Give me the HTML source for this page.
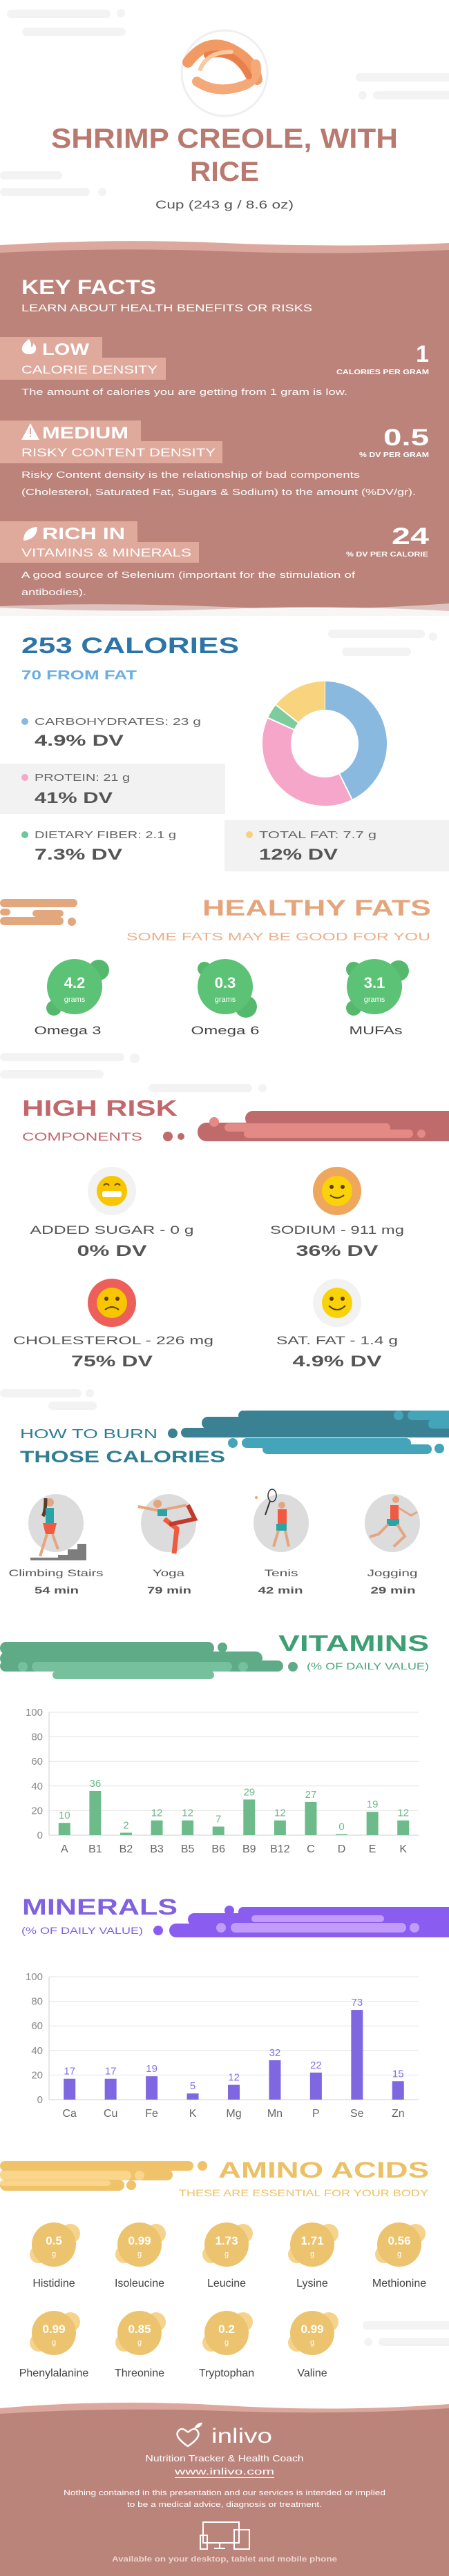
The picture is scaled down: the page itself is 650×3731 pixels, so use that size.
<!DOCTYPE html>
<html><head><meta charset="utf-8"><title>Shrimp creole, with rice</title>
<style>
html,body{margin:0;padding:0;background:#fff;}
svg{display:block;font-family:"Liberation Sans",sans-serif;}
</style></head>
<body>
<svg id="page" width="650" height="3731" viewBox="0 0 650 3731" xmlns="http://www.w3.org/2000/svg">
<rect width="650" height="3731" fill="#fff"/>

<!-- header decorations -->
<g fill="#f3f3f3">
<rect x="10" y="14" width="150" height="12" rx="6"/><rect x="32" y="40" width="150" height="12" rx="6"/><circle cx="175" cy="19" r="6"/>
<rect x="515" y="106" width="140" height="12" rx="6"/><rect x="540" y="132" width="120" height="12" rx="6"/><circle cx="525" cy="138" r="6"/>
<rect x="0" y="248" width="90" height="12" rx="6"/><rect x="0" y="272" width="130" height="12" rx="6"/><circle cx="148" cy="278" r="6"/>
</g>
<g>
<circle cx="325" cy="106" r="62" fill="#fff" stroke="#efefef" stroke-width="3"/>
<path d="M272 90 q30 -40 70 -15 q25 15 30 40" stroke="#f29a64" stroke-width="16" fill="none" stroke-linecap="round"/>
<path d="M285 118 q30 20 70 5 q20 -10 15 -30" stroke="#f5a878" stroke-width="14" fill="none" stroke-linecap="round"/>
<path d="M300 80 q40 -10 60 30" stroke="#e8804e" stroke-width="10" fill="none" stroke-linecap="round"/>
<path d="M290 100 q10 -25 45 -25" stroke="#fbc8a0" stroke-width="6" fill="none" stroke-linecap="round"/>
</g>
<text x="325" y="214" text-anchor="middle" font-size="40" font-weight="bold" fill="#b9796f" textLength="502" lengthAdjust="spacingAndGlyphs">SHRIMP CREOLE, WITH</text>
<text x="325" y="262" text-anchor="middle" font-size="40" font-weight="bold" fill="#b9796f" textLength="100" lengthAdjust="spacingAndGlyphs">RICE</text>
<text x="325" y="302" text-anchor="middle" font-size="17" fill="#555" textLength="200" lengthAdjust="spacingAndGlyphs">Cup (243 g / 8.6 oz)</text>

<!-- key facts band -->
<g>
<path d="M0 355 Q160 345 325 352 T650 352 L650 372 L0 372Z" fill="#dca89d"/>
<path d="M0 366 Q160 358 325 364 T650 362 L650 885 Q480 876 325 882 T0 880Z" fill="#bb837a"/>
<path d="M0 878 Q160 872 325 879 T650 874 L650 892 L0 892Z" fill="#f3efee" opacity="0.6"/>
</g>
<text x="31" y="426" font-size="30" font-weight="bold" fill="#fff" textLength="195" lengthAdjust="spacingAndGlyphs">KEY FACTS</text>
<text x="31" y="451" font-size="15" fill="#fff" textLength="421" lengthAdjust="spacingAndGlyphs">LEARN ABOUT HEALTH BENEFITS OR RISKS</text>

<g>
<rect x="0" y="488" width="148" height="31" fill="#dfa99c"/><rect x="0" y="518" width="240" height="32" fill="#dfa99c"/>
<path d="M42 491 q-12 9 -10 16 q2 6 10 6 q9 0 10 -7 q1 -5 -4 -9 q0 5 -3 6 q1 -6 -3 -12z" fill="#fff"/>
<text x="61" y="514" font-size="24" font-weight="bold" fill="#fff" textLength="68" lengthAdjust="spacingAndGlyphs">LOW</text>
<text x="31" y="541" font-size="17" fill="#fff" textLength="197" lengthAdjust="spacingAndGlyphs">CALORIE DENSITY</text>
<text x="621" y="524" text-anchor="end" font-size="34" font-weight="bold" fill="#fff">1</text>
<text x="621" y="542" text-anchor="end" font-size="10" font-weight="bold" fill="#fff" textLength="134" lengthAdjust="spacingAndGlyphs">CALORIES PER GRAM</text>
<text x="31" y="572" font-size="13" fill="#fff" textLength="472" lengthAdjust="spacingAndGlyphs">The amount of calories you are getting from 1 gram is low.</text>
</g>
<g>
<rect x="0" y="609" width="204" height="31" fill="#dfa99c"/><rect x="0" y="639" width="322" height="32" fill="#dfa99c"/>
<path d="M44 613 L57 637 L31 637Z" fill="#fff"/><rect x="43" y="620" width="2" height="9" fill="#dfa99c"/><rect x="43" y="631" width="2" height="2" fill="#dfa99c"/>
<text x="61" y="635" font-size="24" font-weight="bold" fill="#fff" textLength="125" lengthAdjust="spacingAndGlyphs">MEDIUM</text>
<text x="31" y="661" font-size="17" fill="#fff" textLength="281" lengthAdjust="spacingAndGlyphs">RISKY CONTENT DENSITY</text>
<text x="621" y="645" text-anchor="end" font-size="34" font-weight="bold" fill="#fff" textLength="66" lengthAdjust="spacingAndGlyphs">0.5</text>
<text x="621" y="662" text-anchor="end" font-size="10" font-weight="bold" fill="#fff" textLength="101" lengthAdjust="spacingAndGlyphs">% DV PER GRAM</text>
<text x="31" y="692" font-size="13" fill="#fff" textLength="490" lengthAdjust="spacingAndGlyphs">Risky Content density is the relationship of bad components</text>
<text x="31" y="717" font-size="13" fill="#fff" textLength="571" lengthAdjust="spacingAndGlyphs">(Cholesterol, Saturated Fat, Sugars &amp; Sodium) to the amount (%DV/gr).</text>
</g>
<g>
<rect x="0" y="755" width="199" height="31" fill="#dfa99c"/><rect x="0" y="785" width="288" height="30" fill="#dfa99c"/>
<path d="M34 783 q0 -18 20 -20 q0 18 -20 20z" fill="#fff"/>
<text x="61" y="781" font-size="24" font-weight="bold" fill="#fff" textLength="120" lengthAdjust="spacingAndGlyphs">RICH  IN</text>
<text x="31" y="806" font-size="17" fill="#fff" textLength="246" lengthAdjust="spacingAndGlyphs">VITAMINS &amp; MINERALS</text>
<text x="621" y="788" text-anchor="end" font-size="34" font-weight="bold" fill="#fff" textLength="54" lengthAdjust="spacingAndGlyphs">24</text>
<text x="620" y="806" text-anchor="end" font-size="10" font-weight="bold" fill="#fff" textLength="119" lengthAdjust="spacingAndGlyphs">% DV PER CALORIE</text>
<text x="31" y="837" font-size="13" fill="#fff" textLength="483" lengthAdjust="spacingAndGlyphs">A good source of Selenium (important for the stimulation of</text>
<text x="31" y="862" font-size="13" fill="#fff" textLength="94" lengthAdjust="spacingAndGlyphs">antibodies).</text>
</g>

<!-- calories -->
<g fill="#f3f3f3">
<rect x="475" y="912" width="140" height="12" rx="6"/><rect x="495" y="938" width="100" height="12" rx="6"/><circle cx="627" cy="922" r="6"/>
</g>
<text x="31" y="946" font-size="32" font-weight="bold" fill="#2d74a8" textLength="315" lengthAdjust="spacingAndGlyphs">253 CALORIES</text>
<text x="31" y="984" font-size="18" font-weight="bold" fill="#6baee0" textLength="167" lengthAdjust="spacingAndGlyphs">70 FROM FAT</text>
<rect x="0" y="1106" width="326" height="73" fill="#f2f2f2"/>
<rect x="325" y="1188" width="325" height="74" fill="#f2f2f2"/>
<g>
<circle cx="36" cy="1045" r="5" fill="#8ab9e0"/>
<text x="50" y="1050" font-size="15" fill="#666" textLength="241" lengthAdjust="spacingAndGlyphs">CARBOHYDRATES: 23 g</text>
<text x="50" y="1080" font-size="22" font-weight="bold" fill="#555" textLength="129" lengthAdjust="spacingAndGlyphs">4.9% DV</text>
</g>
<g>
<circle cx="36" cy="1126" r="5" fill="#f6a6c8"/>
<text x="50" y="1131" font-size="15" fill="#666" textLength="138" lengthAdjust="spacingAndGlyphs">PROTEIN: 21 g</text>
<text x="50" y="1163" font-size="22" font-weight="bold" fill="#555" textLength="113" lengthAdjust="spacingAndGlyphs">41% DV</text>
</g>
<g>
<circle cx="36" cy="1209" r="5" fill="#6cc79a"/>
<text x="50" y="1214" font-size="15" fill="#666" textLength="205" lengthAdjust="spacingAndGlyphs">DIETARY FIBER: 2.1 g</text>
<text x="50" y="1245" font-size="22" font-weight="bold" fill="#555" textLength="127" lengthAdjust="spacingAndGlyphs">7.3% DV</text>
</g>
<g>
<circle cx="361" cy="1209" r="5" fill="#f8d07a"/>
<text x="375" y="1214" font-size="15" fill="#666" textLength="170" lengthAdjust="spacingAndGlyphs">TOTAL FAT: 7.7 g</text>
<text x="375" y="1245" font-size="22" font-weight="bold" fill="#555" textLength="114" lengthAdjust="spacingAndGlyphs">12% DV</text>
</g>
<g id="donut"></g>

<!-- healthy fats -->
<g fill="#e3a77e">
<rect x="0" y="1302" width="112" height="12" rx="6"/><rect x="0" y="1316" width="15" height="10" rx="5"/><rect x="47" y="1318" width="45" height="10" rx="5"/>
<rect x="0" y="1328" width="92" height="12" rx="6"/><circle cx="104" cy="1335" r="6"/>
</g>
<text x="624" y="1326" text-anchor="end" font-size="32" font-weight="bold" fill="#e5a57c" textLength="331" lengthAdjust="spacingAndGlyphs">HEALTHY FATS</text>
<text x="623" y="1362" text-anchor="end" font-size="16" fill="#eab08a" textLength="440" lengthAdjust="spacingAndGlyphs">SOME FATS MAY BE GOOD FOR YOU</text>
<g>
<circle cx="143" cy="1405" r="15" fill="#55b86c"/><circle cx="78" cy="1460" r="11" fill="#55b86c"/>
<circle cx="108" cy="1429" r="40" fill="#5cc275"/>
<text x="108" y="1431" text-anchor="middle" font-size="22" font-weight="bold" fill="#fff">4.2</text>
<text x="108" y="1451" text-anchor="middle" font-size="11" fill="#fff">grams</text>
<text x="98" y="1498" text-anchor="middle" font-size="17" fill="#444" textLength="97" lengthAdjust="spacingAndGlyphs">Omega 3</text>
</g>
<g>
<circle cx="296" cy="1403" r="10" fill="#55b86c"/><circle cx="356" cy="1458" r="16" fill="#55b86c"/>
<circle cx="326" cy="1429" r="40" fill="#5cc275"/>
<text x="326" y="1431" text-anchor="middle" font-size="22" font-weight="bold" fill="#fff">0.3</text>
<text x="326" y="1451" text-anchor="middle" font-size="11" fill="#fff">grams</text>
<text x="326" y="1498" text-anchor="middle" font-size="17" fill="#444" textLength="99" lengthAdjust="spacingAndGlyphs">Omega 6</text>
</g>
<g>
<circle cx="512" cy="1404" r="11" fill="#55b86c"/><circle cx="577" cy="1406" r="15" fill="#55b86c"/><circle cx="512" cy="1460" r="11" fill="#55b86c"/>
<circle cx="542" cy="1429" r="40" fill="#5cc275"/>
<text x="542" y="1431" text-anchor="middle" font-size="22" font-weight="bold" fill="#fff">3.1</text>
<text x="542" y="1451" text-anchor="middle" font-size="11" fill="#fff">grams</text>
<text x="544" y="1498" text-anchor="middle" font-size="17" fill="#444" textLength="77" lengthAdjust="spacingAndGlyphs">MUFAs</text>
</g>
<g fill="#f3f3f3">
<rect x="0" y="1525" width="180" height="12" rx="6"/><circle cx="195" cy="1533" r="7"/><rect x="0" y="1550" width="150" height="12" rx="6"/><rect x="215" y="1570" width="150" height="12" rx="6"/><circle cx="380" cy="1576" r="6"/>
</g>

<!-- high risk -->
<g>
<rect x="286" y="1626" width="380" height="27" rx="13" fill="#bf6a6b"/>
<rect x="355" y="1609" width="320" height="22" rx="11" fill="#bf6a6b"/>
<rect x="325" y="1627" width="240" height="12" rx="6" fill="#e38a87"/>
<rect x="353" y="1636" width="245" height="12" rx="6" fill="#e38a87"/>
<circle cx="310" cy="1625" r="7" fill="#e38a87"/><circle cx="610" cy="1642" r="6" fill="#e38a87"/>
<circle cx="243" cy="1646" r="7" fill="#bf6a6b"/><circle cx="262" cy="1646" r="5" fill="#bf6a6b"/>
</g>
<text x="32" y="1616" font-size="32" font-weight="bold" fill="#c2676b" textLength="225" lengthAdjust="spacingAndGlyphs">HIGH RISK</text>
<text x="32" y="1652" font-size="17" fill="#c2676b" textLength="174" lengthAdjust="spacingAndGlyphs">COMPONENTS</text>

<g>
<circle cx="162" cy="1725" r="35" fill="#f2f2f2"/><circle cx="162" cy="1725" r="22" fill="#f7c600"/>
<rect x="148" y="1725" width="28" height="9" rx="3" fill="#fff"/>
<path d="M150 1717 q4 -5 8 0 M166 1717 q4 -5 8 0" stroke="#6b4a00" stroke-width="2" fill="none"/>
<text x="162" y="1787" text-anchor="middle" font-size="17" fill="#555" textLength="237" lengthAdjust="spacingAndGlyphs">ADDED SUGAR - 0 g</text>
<text x="162" y="1819" text-anchor="middle" font-size="22" font-weight="bold" fill="#555" textLength="101" lengthAdjust="spacingAndGlyphs">0% DV</text>
</g>
<g>
<circle cx="488" cy="1725" r="35" fill="#efa65d"/><circle cx="488" cy="1725" r="22" fill="#f9d20a"/>
<circle cx="480" cy="1719" r="3" fill="#5a3d00"/><circle cx="496" cy="1719" r="3" fill="#5a3d00"/>
<path d="M478 1731 q10 8 20 0" stroke="#5a3d00" stroke-width="2" fill="none"/>
<text x="488" y="1787" text-anchor="middle" font-size="17" fill="#555" textLength="194" lengthAdjust="spacingAndGlyphs">SODIUM - 911 mg</text>
<text x="488" y="1819" text-anchor="middle" font-size="22" font-weight="bold" fill="#555" textLength="119" lengthAdjust="spacingAndGlyphs">36% DV</text>
</g>
<g>
<circle cx="162" cy="1887" r="35" fill="#ec5f5a"/><circle cx="162" cy="1887" r="22" fill="#f7c600"/>
<circle cx="154" cy="1881" r="3" fill="#5a3d00"/><circle cx="170" cy="1881" r="3" fill="#5a3d00"/>
<path d="M152 1897 q10 -8 20 0" stroke="#5a3d00" stroke-width="2" fill="none"/>
<text x="164" y="1947" text-anchor="middle" font-size="17" fill="#555" textLength="290" lengthAdjust="spacingAndGlyphs">CHOLESTEROL - 226 mg</text>
<text x="162" y="1979" text-anchor="middle" font-size="22" font-weight="bold" fill="#555" textLength="118" lengthAdjust="spacingAndGlyphs">75% DV</text>
</g>
<g>
<circle cx="488" cy="1887" r="35" fill="#f2f2f2"/><circle cx="488" cy="1887" r="22" fill="#f9d20a"/>
<circle cx="480" cy="1881" r="3" fill="#5a3d00"/><circle cx="496" cy="1881" r="3" fill="#5a3d00"/>
<path d="M476 1891 q12 12 24 0" stroke="#5a3d00" stroke-width="2" fill="none"/>
<text x="488" y="1947" text-anchor="middle" font-size="17" fill="#555" textLength="176" lengthAdjust="spacingAndGlyphs">SAT. FAT - 1.4 g</text>
<text x="488" y="1979" text-anchor="middle" font-size="22" font-weight="bold" fill="#555" textLength="129" lengthAdjust="spacingAndGlyphs">4.9% DV</text>
</g>

<!-- burn -->
<g fill="#f3f3f3">
<rect x="0" y="2012" width="118" height="12" rx="6"/><circle cx="130" cy="2018" r="6"/><rect x="70" y="2030" width="70" height="12" rx="6"/>
</g>
<g>
<rect x="350" y="2043" width="310" height="14" rx="7" fill="#3a8193"/><circle cx="352" cy="2050" r="7" fill="#3a8193"/>
<rect x="292" y="2052" width="370" height="18" rx="9" fill="#3a8193"/>
<rect x="262" y="2068" width="400" height="14" rx="7" fill="#3a8193"/><circle cx="250" cy="2076" r="7" fill="#3a8193"/>
<rect x="590" y="2043" width="70" height="14" rx="7" fill="#43a4ba"/><circle cx="577" cy="2050" r="7" fill="#43a4ba"/>
<rect x="620" y="2056" width="40" height="13" rx="6" fill="#43a4ba"/>
<rect x="350" y="2083" width="245" height="14" rx="7" fill="#43a4ba"/><circle cx="337" cy="2090" r="7" fill="#43a4ba"/>
<rect x="380" y="2092" width="245" height="14" rx="7" fill="#43a4ba"/><circle cx="636" cy="2098" r="7" fill="#43a4ba"/>
</g>
<text x="29" y="2083" font-size="18" fill="#2e7d92" textLength="199" lengthAdjust="spacingAndGlyphs">HOW TO BURN</text>
<text x="29" y="2118" font-size="24" font-weight="bold" fill="#2e7d92" textLength="297" lengthAdjust="spacingAndGlyphs">THOSE CALORIES</text>
<g>
<ellipse cx="81" cy="2206" rx="40" ry="42" fill="#dcdcdc"/>
<path d="M44 2260 L125 2260 L125 2236 L112 2236 L112 2244 L98 2244 L98 2252 L84 2252 L84 2256 L44 2256Z" fill="#7d7d7d"/>
<circle cx="72" cy="2176" r="6" fill="#e5a57f"/><path d="M66 2170 q0 20 -4 26" stroke="#5a3a2a" stroke-width="5" fill="none"/>
<rect x="66" y="2184" width="12" height="22" fill="#2aa4a6"/><path d="M62 2206 L82 2206 L78 2222 L66 2222Z" fill="#f05a40"/>
<path d="M68 2222 L58 2254 M76 2222 L84 2244" stroke="#e5a57f" stroke-width="4"/>
</g>
<g>
<ellipse cx="244" cy="2206" rx="40" ry="42" fill="#dcdcdc"/>
<circle cx="228" cy="2178" r="6" fill="#e5a57f"/><path d="M200 2182 L230 2188 L270 2180" stroke="#e5a57f" stroke-width="4" fill="none"/>
<rect x="228" y="2186" width="14" height="10" fill="#2aa4a6"/><path d="M238 2200 L256 2214 L252 2250" stroke="#f05a40" stroke-width="7" fill="none"/>
<path d="M245 2208 L282 2200 L272 2180" stroke="#c23a2a" stroke-width="6" fill="none"/>
</g>
<g>
<ellipse cx="407" cy="2206" rx="40" ry="42" fill="#dcdcdc"/>
<ellipse cx="394" cy="2166" rx="6" ry="9" fill="none" stroke="#333" stroke-width="1.5"/><path d="M391 2174 L384 2194" stroke="#333" stroke-width="2"/>
<circle cx="371" cy="2169" r="2" fill="#e5a57f"/><circle cx="408" cy="2180" r="5" fill="#e5a57f"/>
<rect x="402" y="2186" width="13" height="22" fill="#f05a40"/><rect x="400" y="2207" width="15" height="10" fill="#2aa4a6"/>
<path d="M403 2217 L396 2240 M413 2217 L418 2240" stroke="#e5a57f" stroke-width="4"/>
</g>
<g>
<ellipse cx="568" cy="2206" rx="40" ry="42" fill="#dcdcdc"/>
<circle cx="573" cy="2172" r="5" fill="#e5a57f"/><rect x="565" y="2180" width="12" height="22" fill="#f05a40"/>
<rect x="560" y="2200" width="18" height="10" fill="#2aa4a6"/>
<path d="M562 2208 L548 2222 L535 2226 M575 2208 L586 2225 L570 2240" stroke="#e5a57f" stroke-width="4" fill="none"/>
<path d="M577 2184 L595 2195 L604 2190" stroke="#e5a57f" stroke-width="3" fill="none"/>
</g>
<g font-size="14">
<text x="81" y="2283" text-anchor="middle" fill="#555" textLength="137" lengthAdjust="spacingAndGlyphs">Climbing Stairs</text>
<text x="82" y="2308" text-anchor="middle" font-weight="bold" fill="#555" textLength="64" lengthAdjust="spacingAndGlyphs">54 min</text>
<text x="244" y="2283" text-anchor="middle" fill="#555" textLength="46" lengthAdjust="spacingAndGlyphs">Yoga</text>
<text x="245" y="2308" text-anchor="middle" font-weight="bold" fill="#555" textLength="64" lengthAdjust="spacingAndGlyphs">79 min</text>
<text x="407" y="2283" text-anchor="middle" fill="#555" textLength="49" lengthAdjust="spacingAndGlyphs">Tenis</text>
<text x="406" y="2308" text-anchor="middle" font-weight="bold" fill="#555" textLength="65" lengthAdjust="spacingAndGlyphs">42 min</text>
<text x="568" y="2283" text-anchor="middle" fill="#555" textLength="73" lengthAdjust="spacingAndGlyphs">Jogging</text>
<text x="569" y="2308" text-anchor="middle" font-weight="bold" fill="#555" textLength="65" lengthAdjust="spacingAndGlyphs">29 min</text>
</g>

<!-- vitamins -->
<g>
<rect x="0" y="2378" width="310" height="18" rx="9" fill="#5fab87"/><circle cx="322" cy="2386" r="7" fill="#5fab87"/>
<rect x="0" y="2392" width="380" height="20" rx="10" fill="#5fab87"/>
<rect x="0" y="2405" width="410" height="16" rx="8" fill="#5fab87"/><circle cx="424" cy="2414" r="7" fill="#5fab87"/>
<rect x="46" y="2407" width="290" height="14" rx="7" fill="#77c09e"/><circle cx="33" cy="2414" r="7" fill="#77c09e"/><circle cx="352" cy="2414" r="7" fill="#77c09e"/>
<rect x="76" y="2420" width="234" height="12" rx="6" fill="#77c09e"/>
</g>
<text x="621" y="2391" text-anchor="end" font-size="32" font-weight="bold" fill="#3e9e74" textLength="218" lengthAdjust="spacingAndGlyphs">VITAMINS</text>
<text x="621" y="2418" text-anchor="end" font-size="14" fill="#4aa57a" textLength="177" lengthAdjust="spacingAndGlyphs">(% OF DAILY VALUE)</text>
<g id="vitChart"></g>

<!-- minerals -->
<g>
<rect x="345" y="2762" width="320" height="14" rx="7" fill="#8b5cf0"/><circle cx="332" cy="2767" r="7" fill="#8b5cf0"/>
<rect x="272" y="2771" width="390" height="18" rx="9" fill="#8b5cf0"/>
<rect x="245" y="2786" width="420" height="20" rx="10" fill="#8b5cf0"/><circle cx="229" cy="2796" r="7" fill="#8b5cf0"/>
<rect x="364" y="2774" width="192" height="10" rx="5" fill="#c29cf8"/>
<rect x="334" y="2785" width="254" height="14" rx="7" fill="#c29cf8"/><circle cx="320" cy="2792" r="7" fill="#c29cf8"/><circle cx="600" cy="2792" r="7" fill="#c29cf8"/>
</g>
<text x="32" y="2773" font-size="32" font-weight="bold" fill="#8062e0" textLength="225" lengthAdjust="spacingAndGlyphs">MINERALS</text>
<text x="31" y="2801" font-size="14" fill="#8062e0" textLength="176" lengthAdjust="spacingAndGlyphs">(% OF DAILY VALUE)</text>
<g id="minChart"></g>

<!-- amino acids -->
<g>
<rect x="0" y="3130" width="280" height="14" rx="7" fill="#f0c36b"/><circle cx="293" cy="3137" r="7" fill="#f0c36b"/>
<rect x="0" y="3142" width="250" height="16" rx="8" fill="#f0c36b"/>
<rect x="0" y="3144" width="190" height="14" rx="7" fill="#f9d68c"/><circle cx="202" cy="3151" r="7" fill="#f9d68c"/>
<rect x="0" y="3157" width="180" height="16" rx="8" fill="#f0c36b"/><rect x="0" y="3158" width="160" height="8" rx="4" fill="#f9d68c"/><circle cx="190" cy="3165" r="7" fill="#f0c36b"/>
</g>
<text x="621" y="3154" text-anchor="end" font-size="32" font-weight="bold" fill="#ecc064" textLength="305" lengthAdjust="spacingAndGlyphs">AMINO ACIDS</text>
<text x="620" y="3181" text-anchor="end" font-size="14" fill="#ecc064" textLength="361" lengthAdjust="spacingAndGlyphs">THESE ARE ESSENTIAL FOR YOUR BODY</text>
<g fill="#f3f3f3">
<rect x="525" y="3362" width="140" height="12" rx="6"/><rect x="548" y="3386" width="110" height="12" rx="6"/><circle cx="533" cy="3392" r="6"/>
</g>
<g id="amino"></g>

<!-- footer -->
<g>
<path d="M0 3488 Q160 3474 325 3484 T650 3482 L650 3500 L0 3500Z" fill="#dca89d"/>
<path d="M0 3496 Q160 3486 325 3492 T650 3488 L650 3731 L0 3731Z" fill="#bb847a"/>
<path d="M272 3523 q-10 -10 -15 0 q-3 8 15 20 q18 -12 15 -20 q-4 -10 -15 0" stroke="#fff" stroke-width="2.5" fill="none"/>
<path d="M281 3517 q5 -9 12 -8 q-2 8 -12 8z" fill="#fff"/>
<text x="306" y="3538" font-size="30" fill="#fff" textLength="88" lengthAdjust="spacingAndGlyphs">inlivo</text>
<text x="325" y="3565" text-anchor="middle" font-size="13" fill="#fff" textLength="229" lengthAdjust="spacingAndGlyphs">Nutrition Tracker &amp; Health Coach</text>
<text x="325" y="3584" text-anchor="middle" font-size="13" fill="#fff" textLength="144" lengthAdjust="spacingAndGlyphs">www.inlivo.com</text>
<rect x="253" y="3588" width="144" height="1" fill="#fff"/>
<text x="325" y="3614" text-anchor="middle" font-size="11" fill="#fff" textLength="466" lengthAdjust="spacingAndGlyphs">Nothing contained in this presentation and our services is intended or implied</text>
<text x="325" y="3631" text-anchor="middle" font-size="11" fill="#fff" textLength="282" lengthAdjust="spacingAndGlyphs">to be a medical advice, diagnosis or treatment.</text>
<g stroke="#fff" stroke-width="2" fill="none">
<rect x="294" y="3653" width="52" height="30"/><rect x="290" y="3672" width="10" height="20"/><rect x="339" y="3664" width="22" height="28"/>
<path d="M318 3684 L318 3690 M310 3691 L326 3691"/>
</g>
<text x="325" y="3710" text-anchor="middle" font-size="11" font-weight="bold" fill="#ecd2cb" textLength="326" lengthAdjust="spacingAndGlyphs">Available on your desktop, tablet and mobile phone</text>
</g>
</svg>

<script>
var NS = "http://www.w3.org/2000/svg";
// macro donut data (grams)
var macroNames = ["carbohydrates", "protein", "fiber", "fat"];
var macroGrams = [23, 21, 2.1, 7.7];
var macroColors = ["#8ab9e0", "#f6a6c8", "#7ecb9e", "#f8d47e"];
// vitamins
var vitCats = ["A","B1","B2","B3","B5","B6","B9","B12","C","D","E","K"];
var vitVals = [10,36,2,12,12,7,29,12,27,0,19,12];
// minerals
var minCats = ["Ca","Cu","Fe","K","Mg","Mn","P","Se","Zn"];
var minVals = [17,17,19,5,12,32,22,73,15];
var yTicks = [0,20,40,60,80,100];
// amino acids
var aminoNames = ["Histidine","Isoleucine","Leucine","Lysine","Methionine","Phenylalanine","Threonine","Tryptophan","Valine"];
var aminoVals = ["0.5","0.99","1.73","1.71","0.56","0.99","0.85","0.2","0.99"];

function mk(tag, attrs, parent){
  var e = document.createElementNS(NS, tag);
  for (var k in attrs) e.setAttribute(k, attrs[k]);
  parent.appendChild(e);
  return e;
}

// donut
(function(){
  var g = document.getElementById("donut");
  var cx = 470, cy = 1077, r = 69.5, w = 41;
  var total = macroGrams.reduce(function(a,b){return a+b;},0);
  var a0 = 0;
  for (var i=0;i<macroGrams.length;i++){
    var a1 = a0 + macroGrams[i]/total*360;
    var p1 = [cx + r*Math.sin(a0*Math.PI/180), cy - r*Math.cos(a0*Math.PI/180)];
    var p2 = [cx + r*Math.sin(a1*Math.PI/180), cy - r*Math.cos(a1*Math.PI/180)];
    var large = (a1-a0) > 180 ? 1 : 0;
    var p = mk("path", {d:"M"+p1[0]+" "+p1[1]+" A"+r+" "+r+" 0 "+large+" 1 "+p2[0]+" "+p2[1], stroke:macroColors[i], "stroke-width":w, fill:"none"}, g);
    
    
    var l = mk("line", {x1:cx+(r-w/2)*Math.sin(a0*Math.PI/180), y1:cy-(r-w/2)*Math.cos(a0*Math.PI/180), x2:cx+(r+w/2)*Math.sin(a0*Math.PI/180), y2:cy-(r+w/2)*Math.cos(a0*Math.PI/180), stroke:"#fff", "stroke-width":2}, g);
    
    
    a0 = a1;
  }
})();

function barChart(gid, cats, vals, yTop, y0, barColor, valColor, prefix){
  var g = document.getElementById(gid);
  var left = 71, right = 606;
  function yScale(v){ return y0 - (y0 - yTop) * v / 100; }
  var band = (right-left)/cats.length;
  function xScale(i){ return left + band*(i+0.5); }
  for (var t=0;t<yTicks.length;t++){
    var y = yScale(yTicks[t]);
    var gl = mk("line", {x1:left, y1:y, x2:right, y2:y, stroke: t===0 ? "#cfcfcf" : "#e4e4e4", "stroke-width":1}, g);
    
    
    var tl = mk("text", {x:62, y:y+5, "text-anchor":"end", "font-size":15, fill:"#888"}, g);
    tl.textContent = yTicks[t];
    
    
  }
  var ax = mk("line", {x1:left, y1:yTop, x2:left, y2:y0, stroke:"#cfcfcf", "stroke-width":1}, g);
  
  
  for (var i=0;i<cats.length;i++){
    var x = xScale(i), v = vals[i], h = Math.max(y0 - yScale(v), 1.5);
    var b = mk("rect", {x:x-8.5, y:y0-h, width:17, height:h, fill:barColor}, g);
    
    
    var vl = mk("text", {x:x, y:y0-h-6, "text-anchor":"middle", "font-size":15, fill:valColor}, g);
    vl.textContent = v;
    
    
    var cl = mk("text", {x:x, y:y0+25, "text-anchor":"middle", "font-size":16, fill:"#666"}, g);
    cl.textContent = cats[i];
    
    
  }
}
barChart("vitChart", vitCats, vitVals, 2480, 2658, "#6dbb8a", "#6bb98a", "vitamin");
barChart("minChart", minCats, minVals, 2863, 3041, "#7e67e0", "#8470e6", "mineral");

// amino acids
(function(){
  var g = document.getElementById("amino");
  var xs = [78,202,328,452,578];
  for (var i=0;i<aminoNames.length;i++){
    var row = Math.floor(i/5), col = i%5;
    var cx = xs[col], cy = row===0 ? 3251 : 3379;
    var bg = mk("g", {}, g);
    
    
    mk("circle", {cx:cx+24, cy:cy-16, r:14, fill:"#f6d38c"}, bg);
    mk("circle", {cx:cx-22, cy:cy+14, r:13, fill:"#f6d38c"}, bg);
    mk("circle", {cx:cx, cy:cy, r:32, fill:"#ecc46f"}, bg);
    var vt = mk("text", {x:cx, y:cy, "text-anchor":"middle", "font-size":17, "font-weight":"bold", fill:"#fff"}, bg);
    vt.textContent = aminoVals[i];
    
    
    var gt = mk("text", {x:cx, y:cy+17, "text-anchor":"middle", "font-size":11, fill:"#fff"}, bg);
    gt.textContent = "g";
    
    
    var nt = mk("text", {x:cx, y:(row===0?3312:3442), "text-anchor":"middle", "font-size":16, fill:"#444"}, bg);
    nt.textContent = aminoNames[i];
    
    
  }
})();
</script>
</body></html>
